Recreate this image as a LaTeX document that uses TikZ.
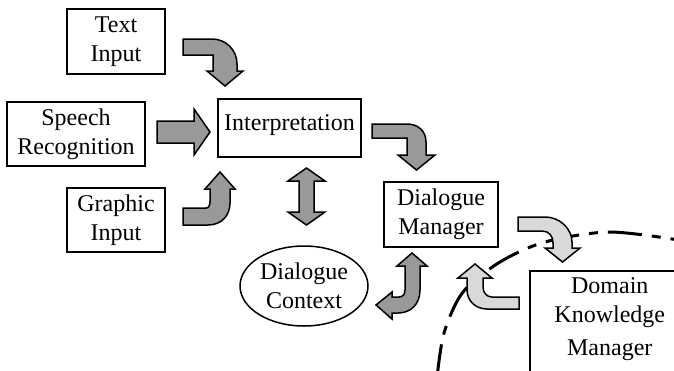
\documentclass[tikz,border=0pt]{standalone}
\usepackage{fontspec}
\setmainfont{Liberation Serif}
\usetikzlibrary{shapes.geometric}

\begin{document}
\begin{tikzpicture}[x=1pt, y=-1pt, font=\fontsize{24}{29}\selectfont]
    \tikzstyle{box}=[draw, line width=1.5pt, rectangle, align=center, inner sep=0pt]
    \tikzstyle{dark}=[draw, line width=1.5pt, fill=gray!80]
    \tikzstyle{light}=[draw, line width=1.5pt, fill=black!15]
    \useasboundingbox (0, 0) rectangle (674, 370);
    \clip (0, 0) rectangle (674, 370);

	\node [box, minimum width=98, minimum height=65] (textin) at (116, 41.5) {Text\\ Input};
	\node [box, minimum width=138, minimum height=64] (speech) at (76, 134) {Speech\\ Recognition};
	\node [box, minimum width=143, minimum height=58, text height=31, text depth=27] (interp) at (289.5, 128) {Interpretation};
	\node [box, minimum width=98, minimum height=64] (graphic) at (116, 220) {Graphic\\ Input};
	\node [box, shape=ellipse, minimum width=128, minimum height=80] (context) at (304, 286) {Dialogue\\ Context};
	\node [box, minimum width=114, minimum height=65] (manager) at (441, 214.5) {Dialogue\\ Manager};
	\node [box, anchor=north west, minimum width=160, inner ysep=7] (domain) at (529, 270) {Domain\\ Knowledge\\[4pt] Manager\\[20pt] \strut};

	\draw [line width=3pt, dash pattern=on 34pt off 10pt on 9pt off 10pt] plot [smooth] coordinates {(437, 378) (444, 333) (463, 292) (500, 262) (545, 242) (610, 232) (685, 241)};

	\draw [dark] (183, 39) -- (212, 39) .. controls (226, 39) and (237, 50) .. (237, 64) -- (237, 71) -- (243, 71) -- (225, 86) -- (207, 71) -- (213, 71) -- (213, 55) -- (183, 55) -- cycle;
	\draw [dark] (157, 121) -- (194, 121) -- (194, 109) -- (210, 132) -- (194, 155) -- (194, 143) -- (157, 143) -- cycle;
	\draw [dark] (183, 208) -- (206, 208) .. controls (209, 208) and (210, 205) .. (210, 201) -- (210, 189) -- (205, 189) -- (220, 172) -- (235, 189) -- (230, 189) -- (230, 203) .. controls (230, 216) and (221, 225) .. (208, 225) -- (183, 225) -- cycle;
	\draw [dark] (306.5, 168) -- (325, 181) -- (314, 181) -- (314, 212) -- (325, 212) -- (306.5, 225) -- (288, 212) -- (299, 212) -- (299, 181) -- (288, 181) -- cycle;
	\draw [dark] (372, 124) -- (407, 124) .. controls (418, 124) and (426, 131) .. (426, 142) -- (426, 155) -- (435, 155) -- (416.5, 170) -- (398, 155) -- (407, 155) -- (407, 138) -- (372, 138) -- cycle;
	\draw [dark] (412, 253) -- (427, 266) -- (420, 266) -- (420, 290) .. controls (420, 304) and (411, 313) .. (398, 313) -- (392, 313) -- (392, 319) -- (376, 305) -- (392, 292) -- (392, 297) -- (399, 297) .. controls (403, 297) and (405, 294) .. (405, 290) -- (405, 266) -- (397, 266) -- cycle;
	\draw [light] (518, 217) -- (545, 217) .. controls (560, 217) and (572, 229) .. (572, 242) -- (572, 248) -- (580, 248) -- (562.5, 262) -- (545, 248) -- (553, 248) -- (553, 243) .. controls (553, 236) and (549, 231) .. (542, 231) -- (518, 231) -- cycle;
	\draw [light] (519, 297) -- (492, 297) .. controls (487, 297) and (483, 293) .. (483, 287) -- (483, 278) -- (492, 278) -- (475, 264) -- (458, 278) -- (467, 278) -- (467, 290) .. controls (467, 301) and (476, 309) .. (487, 309) -- (519, 309) -- cycle;
\end{tikzpicture}
\end{document}
